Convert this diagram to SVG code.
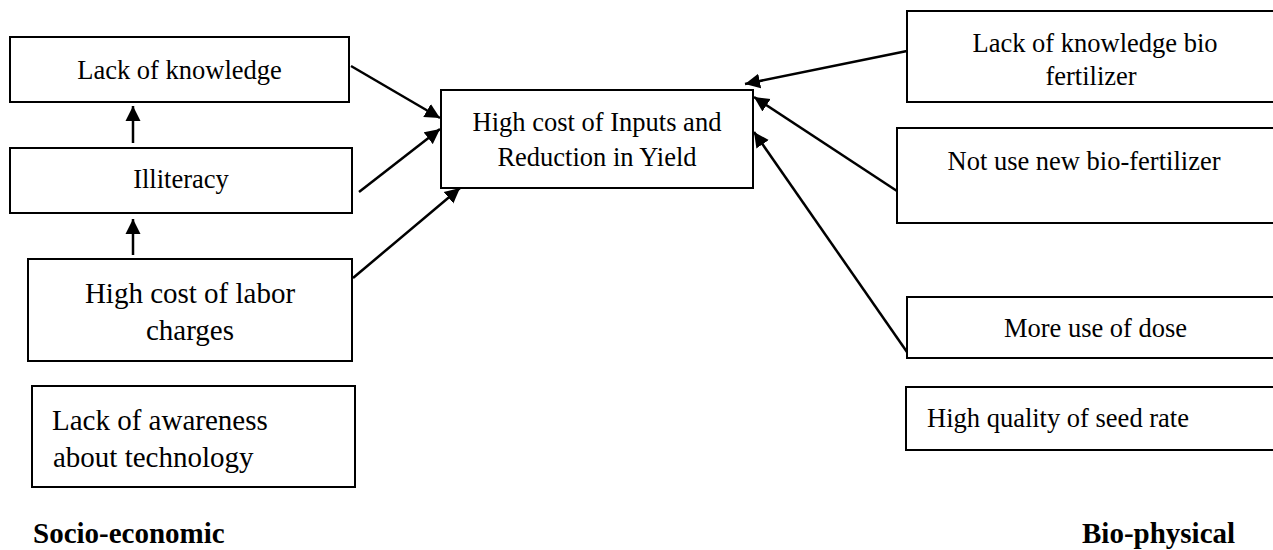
<svg xmlns="http://www.w3.org/2000/svg" width="1273" height="550" viewBox="0 0 1273 550">
  <style>
    .box { fill: #ffffff; stroke: #000000; stroke-width: 2; }
    .t { font-family: "Liberation Serif", "Times New Roman", serif; font-size: 26.5px; fill: #000000; }
    .tm { text-anchor: middle; }
    .big { font-size: 29px; }
    .head { font-family: "Liberation Serif", "Times New Roman", serif; font-size: 29px; font-weight: bold; fill: #000000; }
    .link { fill: none; stroke: #000000; stroke-width: 2.5; marker-end: url(#arrow); }
  </style>
  <defs>
    <marker id="arrow" markerUnits="userSpaceOnUse" markerWidth="16" markerHeight="16" viewBox="0 0 16 16" refX="15" refY="8" orient="auto">
      <path d="M0,0.5 L15,8 L0,15.5 Z" fill="#000000"/>
    </marker>
  </defs>
  <rect width="1273" height="550" fill="#ffffff"/>

  <!-- socio-economic causes -->
  <g id="lack-knowledge">
    <rect class="box" x="10" y="37" width="339" height="65"/>
    <text class="t tm" x="179.5" y="79">Lack of knowledge</text>
  </g>
  <g id="illiteracy">
    <rect class="box" x="10" y="148" width="342" height="65"/>
    <text class="t tm" x="181" y="188">Illiteracy</text>
  </g>
  <g id="labor-cost">
    <rect class="box" x="28" y="259" width="324" height="102"/>
    <text class="t big tm" x="190" y="303">High cost of labor</text>
    <text class="t big tm" x="190" y="340">charges</text>
  </g>
  <g id="awareness">
    <rect class="box" x="32" y="386" width="323" height="101"/>
    <text class="t big" x="52" y="430">Lack of awareness</text>
    <text class="t big" x="53" y="467">about technology</text>
  </g>

  <!-- central effect -->
  <g id="outcome">
    <rect class="box" x="441" y="90" width="312" height="98"/>
    <text class="t tm" x="597" y="131">High cost of Inputs and</text>
    <text class="t tm" x="597" y="166">Reduction in Yield</text>
  </g>

  <!-- bio-physical causes -->
  <g id="biofert-knowledge">
    <rect class="box" x="907" y="11" width="380" height="91"/>
    <text class="t tm" x="1095" y="52">Lack of knowledge bio</text>
    <text class="t tm" x="1091" y="85">fertilizer</text>
  </g>
  <g id="biofert-use">
    <rect class="box" x="897" y="128" width="390" height="95"/>
    <text class="t tm" x="1084" y="170">Not use new bio-fertilizer</text>
  </g>
  <g id="dose">
    <rect class="box" x="907" y="297" width="380" height="61"/>
    <text class="t tm" x="1095.5" y="337">More use of dose</text>
  </g>
  <g id="seed-rate">
    <rect class="box" x="906" y="387" width="380" height="63"/>
    <text class="t" x="927" y="427">High quality of seed rate</text>
  </g>

  <!-- group headings -->
  <g id="labels">
    <text class="head" x="33" y="543">Socio-economic</text>
    <text class="head" x="1082" y="543">Bio-physical</text>
  </g>

  <g id="connectors">
    <line class="link" x1="133" y1="143" x2="133" y2="106"/>
    <line class="link" x1="133" y1="255" x2="133" y2="219"/>
    <line class="link" x1="351" y1="66" x2="440" y2="118"/>
    <line class="link" x1="359" y1="192" x2="440" y2="129"/>
    <line class="link" x1="353" y1="278" x2="460" y2="188"/>
    <line class="link" x1="907" y1="51" x2="745" y2="84"/>
    <line class="link" x1="897" y1="191" x2="754" y2="97"/>
    <line class="link" x1="907" y1="352" x2="754" y2="132"/>
  </g>
</svg>
